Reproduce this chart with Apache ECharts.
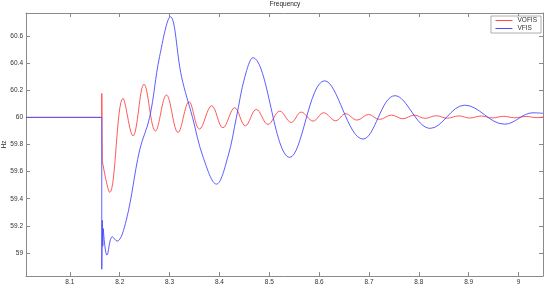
<!DOCTYPE html>
<html>
<head>
<meta charset="utf-8">
<script src="https://cdn.jsdelivr.net/npm/echarts@6/dist/echarts.min.js"></script>
<style>
  html, body { margin: 0; padding: 0; background: #fff; }
  #chart { width: 550px; height: 290px; }
</style>
</head>
<body>
<div id="chart"></div>
<script>
var xTicks = [8.1, 8.2, 8.3, 8.4, 8.5, 8.6, 8.7, 8.8, 8.9, 9]
var yTicks = [59, 59.2, 59.4, 59.6, 59.8, 60, 60.2, 60.4, 60.6]

// steady state + step at the event (straight segments)
var vofisStepT = [8.012, 8.164, 8.164, 8.165]
var vofisStepV = [60, 60, 60.177, 59.68]
var vfisStepT = [8.012, 8.164, 8.164, 8.165, 8.166, 8.167]
var vfisStepV = [60, 60, 58.88, 59.24, 59.05, 59.18]

// oscillation after the event (smooth)
var vofisT = [8.165, 8.180, 8.2066, 8.2266, 8.2487, 8.2716, 8.2937, 8.317, 8.339, 8.360,
  8.3845, 8.407, 8.4306, 8.452, 8.474, 8.4974, 8.521, 8.544, 8.564, 8.588,
  8.609, 8.633, 8.653, 8.676, 8.699, 8.721, 8.745, 8.768, 8.791, 8.812,
  8.835, 8.857, 8.880, 8.902, 8.925, 8.947, 8.970, 8.992, 9.015, 9.037, 9.049]
var vofisV = [59.68, 59.446, 60.14, 59.864, 60.244, 59.899, 60.165, 59.889, 60.115, 59.914,
  60.086, 59.923, 60.071, 59.938, 60.059, 59.948, 60.046, 59.963, 60.039, 59.973,
  60.034, 59.975, 60.027, 59.98, 60.022, 59.985, 60.017, 59.99, 60.017, 59.993,
  60.012, 59.994, 60.011, 59.995, 60.01, 59.996, 60.008, 59.997, 60.007, 59.998, 60.003]

var vfisT = [8.167, 8.1745, 8.185, 8.1945, 8.213, 8.240, 8.260, 8.280, 8.3017, 8.324,
  8.346, 8.367, 8.394, 8.417, 8.434, 8.451, 8.467, 8.541, 8.611, 8.688,
  8.752, 8.823, 8.892, 8.972, 9.029, 9.049]
var vfisV = [59.18, 58.984, 59.12, 59.087, 59.24, 59.76, 60.0, 60.45, 60.742, 60.30,
  60.0, 59.71, 59.508, 59.71, 60.0, 60.30, 60.44, 59.705, 60.27, 59.84,
  60.16, 59.919, 60.09, 59.95, 60.034, 60.03]

var red = '#ff4646'
var blue = '#4b4bff'
var axisColor = '#8a8a8a'
var textColor = '#333'
var font = 'Liberation Sans'

function pairs (t, v) {
  var out = []
  for (var i = 0; i < t.length; i++) out.push([t[i], v[i]])
  return out
}

function makeX (pos, showLabel) {
  return {
    type: 'value',
    position: pos,
    min: 8.012,
    max: 9.049,
    axisLine: { show: true, onZero: false, lineStyle: { color: axisColor, width: 1 } },
    axisTick: { show: true, inside: true, length: 4, customValues: xTicks, lineStyle: { color: axisColor } },
    axisLabel: { show: showLabel, customValues: xTicks, fontSize: 6.5, color: textColor, fontFamily: font, margin: 3 },
    splitLine: { show: false }
  }
}

function makeY (pos, showLabel) {
  return {
    type: 'value',
    position: pos,
    min: 58.83,
    max: 60.77,
    name: showLabel ? 'Hz' : '',
    nameLocation: 'middle',
    nameGap: 18,
    nameRotate: 90,
    nameMoveOverlap: false,
    nameTextStyle: { fontSize: 6.5, color: textColor, fontFamily: font },
    axisLine: { show: true, onZero: false, lineStyle: { color: axisColor, width: 1 } },
    axisTick: { show: true, inside: true, length: 4, customValues: yTicks, lineStyle: { color: axisColor } },
    axisLabel: { show: showLabel, customValues: yTicks, fontSize: 6.5, color: textColor, fontFamily: font, margin: 3 },
    splitLine: { show: false }
  }
}

function line (name, color, data, smooth, z) {
  return {
    name: name,
    type: 'line',
    data: data,
    smooth: smooth,
    symbol: 'none',
    z: z,
    lineStyle: { color: color, width: 0.9 },
    itemStyle: { color: color }
  }
}

var chart = echarts.init(document.getElementById('chart'), null, { renderer: 'canvas' })
chart.setOption({
  animation: false,
  backgroundColor: '#fff',
  title: {
    text: 'Frequency',
    left: 285,
    textAlign: 'center',
    top: 1,
    padding: 0,
    textStyle: { fontSize: 6.5, fontWeight: 'normal', color: '#222', fontFamily: font }
  },
  legend: {
    data: ['VOFIS', 'VFIS'],
    orient: 'vertical',
    right: 9,
    top: 16,
    itemWidth: 17,
    itemHeight: 8,
    itemGap: 1,
    itemStyle: { opacity: 0 },
    lineStyle: { width: 1 },
    padding: [1, 4, 1, 4],
    backgroundColor: '#fff',
    borderColor: '#999',
    borderWidth: 0.8,
    borderRadius: 0,
    textStyle: { fontSize: 6.5, color: textColor, fontFamily: font }
  },
  grid: { left: 26, right: 7, top: 13, bottom: 14, containLabel: false, outerBoundsMode: 'none' },
  xAxis: [makeX('bottom', true), makeX('top', false)],
  yAxis: [makeY('left', true), makeY('right', false)],
  series: [
    line('VOFIS', red, pairs(vofisStepT, vofisStepV), false, 2),
    line('VOFIS', red, pairs(vofisT, vofisV), 0.38, 2),
    line('VFIS', blue, pairs(vfisStepT, vfisStepV), false, 3),
    line('VFIS', blue, pairs(vfisT, vfisV), 0.38, 3)
  ]
})
</script>
</body>
</html>
